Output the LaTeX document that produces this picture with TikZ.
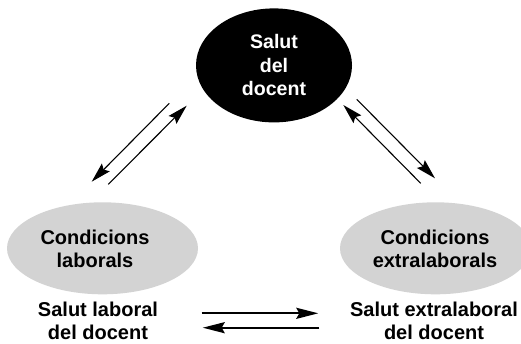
\documentclass[tikz,border=0pt]{standalone}
\usepackage{fontspec}
\setmainfont{Liberation Sans}
\usetikzlibrary{arrows.meta,shapes.geometric}
\definecolor{ellgray}{RGB}{211,211,211}
\begin{document}
\begin{tikzpicture}[x=1pt,y=-1pt,
  lbl/.style={font=\fontsize{20}{23.5}\selectfont\bfseries, align=center, inner sep=0pt},
  blackell/.style={ellipse, fill=black, text=white, minimum width=156pt, minimum height=114pt, inner sep=0pt, lbl, font=\fontsize{19.6}{23.5}\selectfont\bfseries},
  grayell/.style={ellipse, fill=ellgray, minimum width=191pt, minimum height=92pt, inner sep=0pt},
  ellText/.style={lbl, font=\fontsize{20}{22.7}\selectfont\bfseries},
  thinarrow/.style={line width=1.1pt, -{Stealth[length=20pt,width=11pt,inset=3pt]}},
  thickarrow/.style={line width=2.2pt, -{Stealth[length=22pt,width=11pt,inset=3pt]}}]
\useasboundingbox (0,0) rectangle (521,343);
\clip (0,0) rectangle (521,343);
\node[blackell] (top) at (274,65.4) {Salut\\del\\docent};
\node[grayell] (lab) at (102.5,248.3) {};
\node[ellText] (labtxt) at (95,248.8) {Condicions\\laborals};
\node[grayell] (ext) at (435.5,248.3) {};
\node[ellText] (exttxt) at (435,248.8) {Condicions\\extralaborals};
\node[lbl] (sl) at (98,321) {Salut laboral\\del docent};
\node[lbl] (se) at (434,321) {Salut extralaboral\\del docent};
% left diagonal pair
\coordinate (l1s) at (169.3,103.3); \coordinate (l1e) at (91.7,181.7);
\coordinate (l2s) at (108.3,184.3); \coordinate (l2e) at (186.7,105.7);
% right diagonal pair
\coordinate (r1s) at (356.7,99.3);  \coordinate (r1e) at (435,178.3);
\coordinate (r2s) at (420.7,183.3); \coordinate (r2e) at (343.3,105);
% bottom pair
\coordinate (b1s) at (201.7,313.3); \coordinate (b1e) at (318.3,313.3);
\coordinate (b2s) at (319.3,327.7); \coordinate (b2e) at (202.7,327.7);
\draw[thinarrow] (l1s) -- (l1e);
\draw[thinarrow] (l2s) -- (l2e);
\draw[thinarrow] (r1s) -- (r1e);
\draw[thinarrow] (r2s) -- (r2e);
\draw[thickarrow] (b1s) -- (b1e);
\draw[thickarrow] (b2s) -- (b2e);
\end{tikzpicture}
\end{document}
